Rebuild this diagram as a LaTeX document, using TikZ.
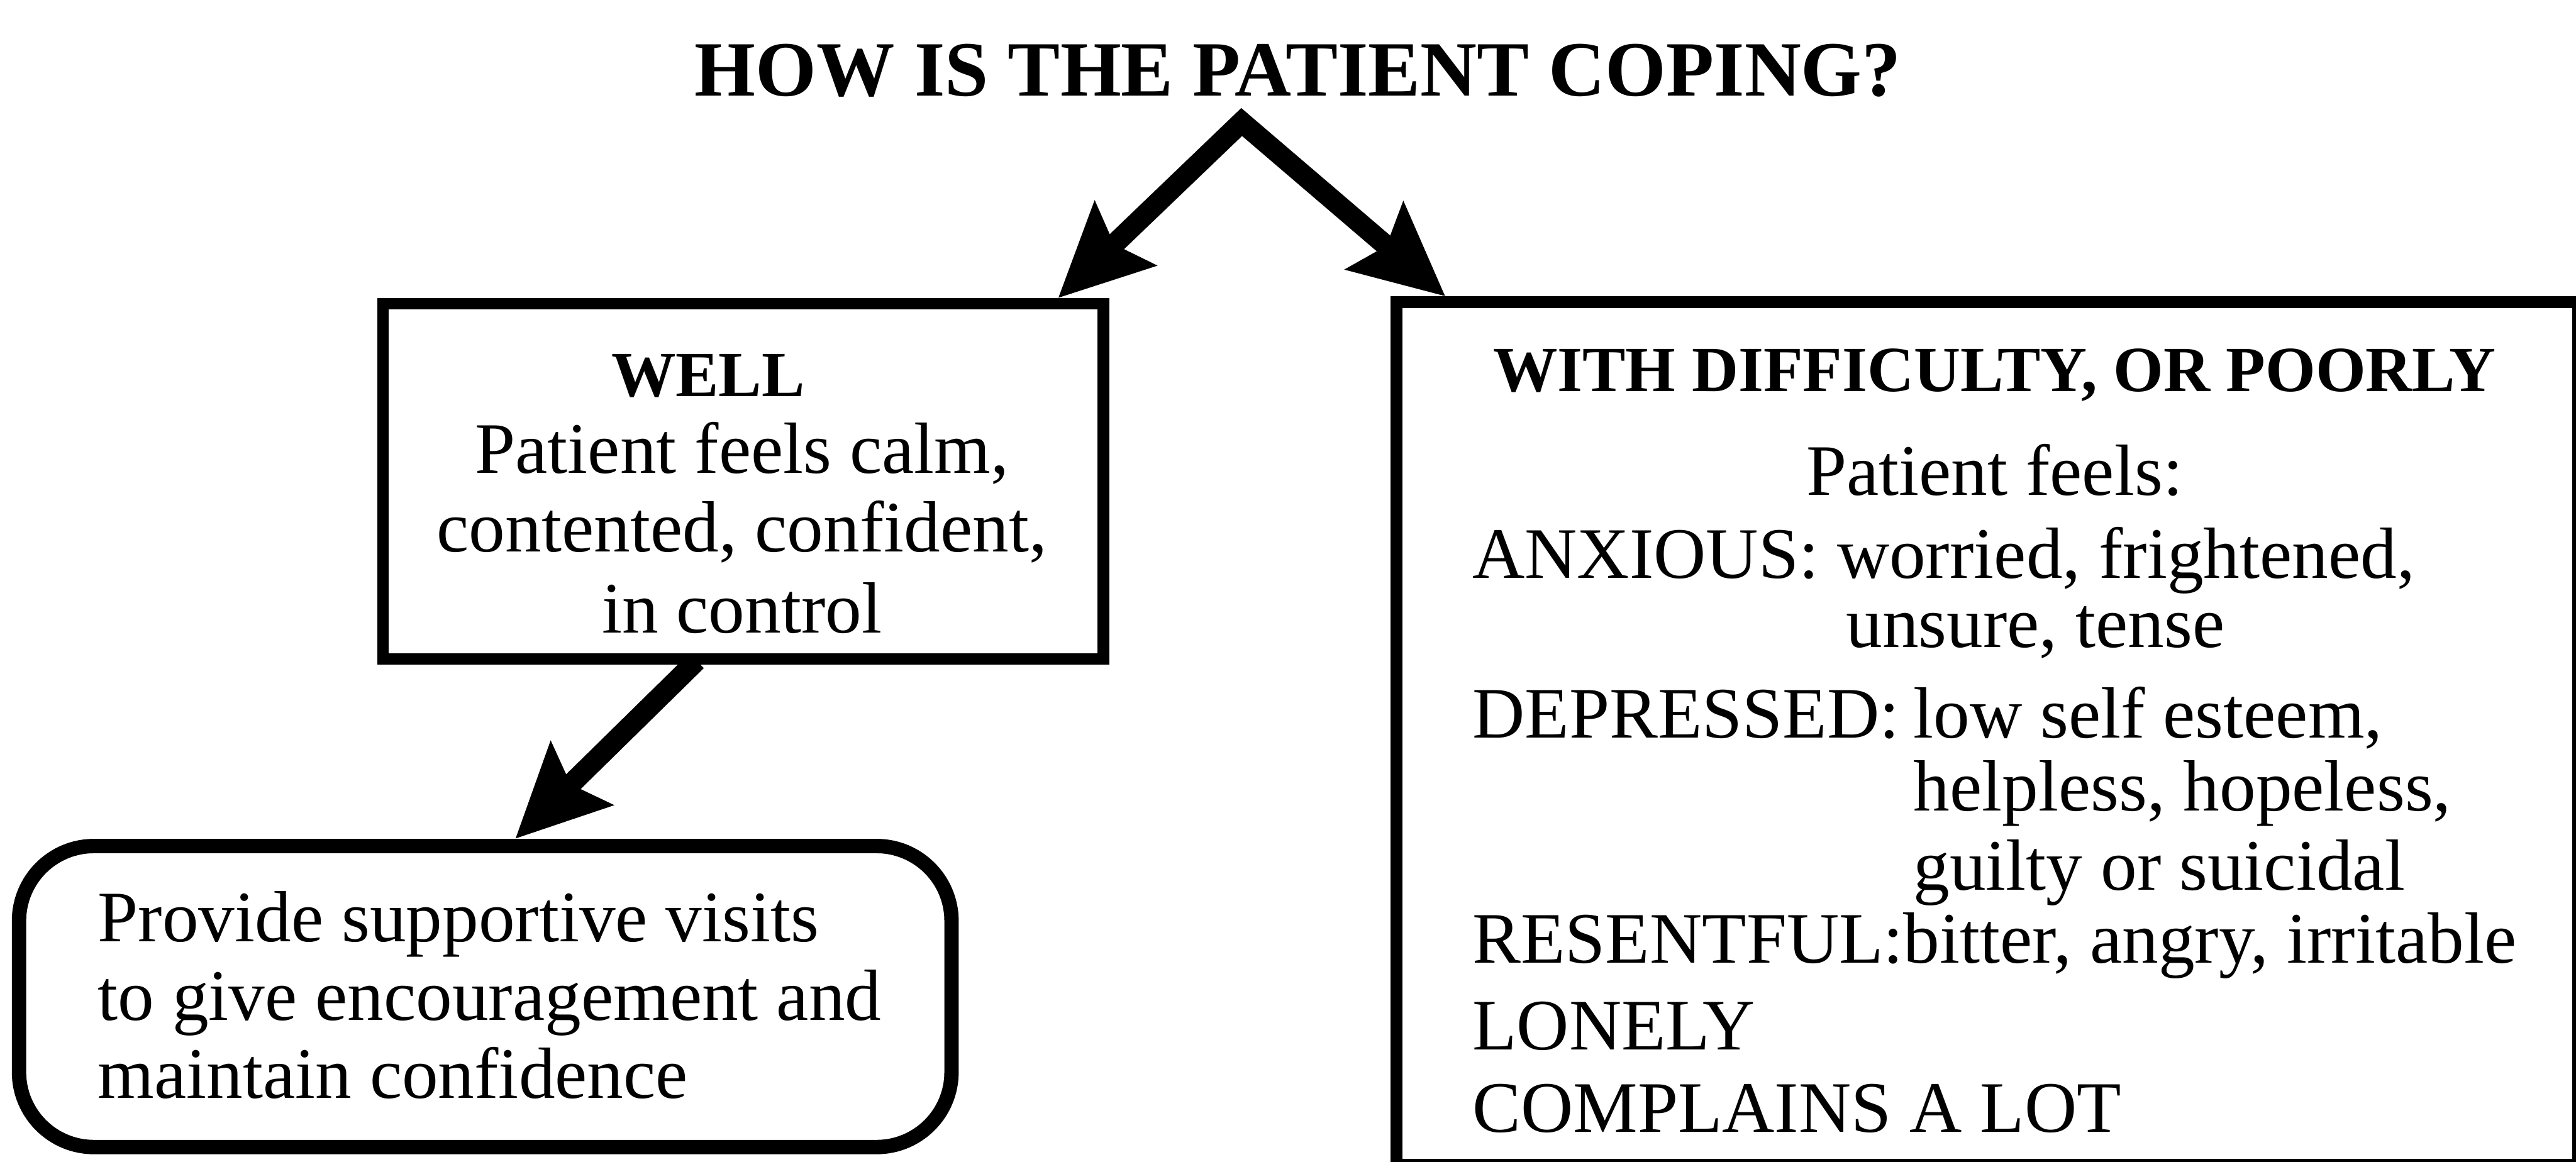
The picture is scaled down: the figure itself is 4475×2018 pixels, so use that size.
\documentclass[tikz,border=0pt]{standalone}
\usepackage{fontspec}
\setmainfont{Liberation Serif}
\usetikzlibrary{arrows.meta}
\begin{document}
\begin{tikzpicture}[x=0.1pt,y=-0.1pt,
  frame/.style={draw=black, line width=2pt, outer sep=1pt, inner sep=0pt},
  softframe/.style={draw=black, line width=2.5pt, outer sep=1.25pt, inner sep=0pt, rounded corners=13pt},
  body/.style={font=\fontsize{12.6}{15}\selectfont, inner sep=0pt},
  head/.style={font=\fontsize{11.2}{13}\selectfont\bfseries, inner sep=0pt},
  titletext/.style={font=\fontsize{13.6}{16}\selectfont\bfseries, inner sep=0pt},
  bigtip/.tip={Stealth[length=16pt,width=15pt,inset=2.5pt]},
  conn/.style={line width=3.6pt, line join=miter, -bigtip}
]
\useasboundingbox (0,0) rectangle (4475,2018);
\fill[white] (0,0) rectangle (4475,2018);

% question
\node[titletext, anchor=base] (title) at (2255,167) {HOW IS THE PATIENT COPING?};
\coordinate (apex) at (2157,212);

% boxes
\node[frame, minimum width=125.2pt, minimum height=61.7pt] (well) at (1291,836.5) {};
\node[frame, minimum width=205.2pt, minimum height=149.9pt] (poor) at (3452,1274.5) {};
\node[softframe, minimum width=162pt, minimum height=52.3pt] (visit) at (843,1731.5) {};

% coping well
\node[head, anchor=base] (wellhead) at (1230,689) {WELL};
\node[body, anchor=base] (well1) at (1289,822) {Patient feels calm,};
\node[body, anchor=base] (well2) at (1289,959) {contented, confident,};
\node[body, anchor=base] (well3) at (1289,1100) {in control};

% supportive visits
\node[body, anchor=base west] (visit1) at (168,1636) {Provide supportive visits};
\node[body, anchor=base west] (visit2) at (168,1773) {to give encouragement and};
\node[body, anchor=base west] (visit3) at (168,1908) {maintain confidence};

% coping poorly
\node[head, anchor=base] (poorhead) at (3465,680) {WITH DIFFICULTY, OR POORLY};
\node[body, anchor=base] (feels) at (3465,860) {Patient feels:};
\node[body, anchor=base west] (anx) at (2556,1005) {ANXIOUS: worried, frightened,};
\node[body, anchor=base west] (anx2) at (3205,1125) {unsure, tense};
\node[body, anchor=base west] (dep) at (2556,1282) {DEPRESSED:};
\node[body, anchor=base west] (dep1) at (3322,1282) {low self esteem,};
\node[body, anchor=base west] (dep2) at (3322,1409) {helpless, hopeless,};
\node[body, anchor=base west] (dep3) at (3322,1546) {guilty or suicidal};
\node[body, anchor=base west] (res) at (2556,1673) {RESENTFUL:bitter, angry, irritable};
\node[body, anchor=base west] (lone) at (2556,1824) {LONELY};
\node[body, anchor=base west] (compl) at (2556,1967) {COMPLAINS A LOT};

% connectors
\draw[conn, bigtip-bigtip] ([xshift=-8.9pt]well.north east) -- (apex) -- ([xshift=9.5pt]poor.north west);
\draw[conn, shorten <=-1pt] ([xshift=-8.8pt]well.south) -- ([xshift=5.2pt]visit.north);
\end{tikzpicture}
\end{document}
